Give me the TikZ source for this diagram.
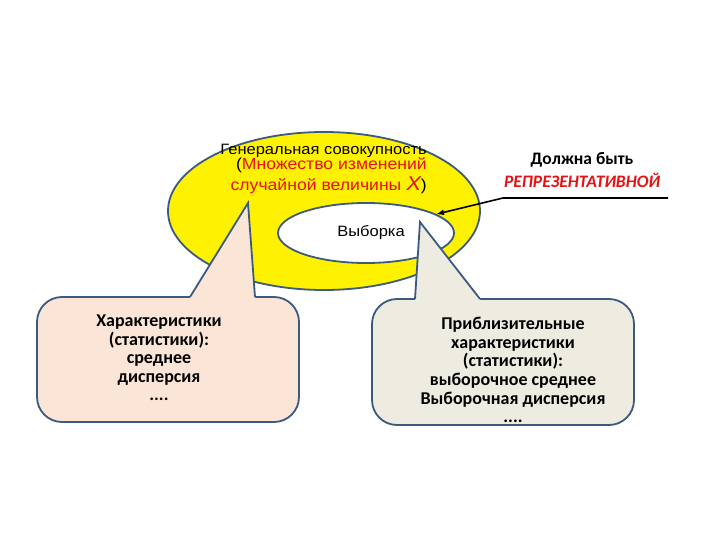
\documentclass[tikz,border=0pt]{standalone}
\usepackage{fontspec}
\setmainfont{Carlito}
\newfontfamily\arialw[FakeStretch=1.1]{Liberation Sans}
\usetikzlibrary{positioning,calc,arrows,shapes,shapes.geometric}
\definecolor{bordc}{RGB}{60,90,125}
\definecolor{redtxt}{RGB}{228,18,20}
\definecolor{peach}{RGB}{251,229,214}
\definecolor{tanbg}{RGB}{238,236,225}
\tikzset{popul/.style={ellipse, draw=bordc, line width=1.8pt, fill=yellow, inner sep=0pt}}
\tikzset{sampl/.style={ellipse, draw=bordc, line width=1.8pt, fill=white, inner sep=0pt}}
\tikzset{callbox/.style={draw=bordc, line width=1.8pt}}
\tikzset{bubble/.style={callbox, rounded corners=25pt, minimum width=262pt, minimum height=125pt, inner sep=0pt}}
\tikzset{calltxt/.style={align=center, font=\bfseries\fontsize{18}{18.6}\selectfont}}
\tikzset{ptarr/.style={draw, -latex, line width=1.6pt}}
\begin{document}
\begin{tikzpicture}[x=1pt, y=-1pt]
			\useasboundingbox (0,0) rectangle (720,540);
			% population and sample
			\node[popul, minimum width=312pt, minimum height=158pt] (pop) at (324,211) {};
			\node[sampl, minimum width=176pt, minimum height=60pt] (smp) at (366,233) {};
			\node[font=\arialw\fontsize{15}{15}\selectfont] (smplbl) at (371,233) {Выборка};
			%
			\node[anchor=base east, inner sep=0pt, font=\arialw\fontsize{15}{15}\selectfont]
				(gen1) at (427,155) {Генеральная совокупность};
			\node[anchor=base east, inner sep=0pt, font=\arialw\fontsize{16}{16}\selectfont]
				(gen2) at (427,170) {(\textcolor{redtxt}{Множество изменений}};
			\node[anchor=base east, inner sep=0pt, font=\arialw\fontsize{16}{16}\selectfont]
				(gen3) at (427,191) {\textcolor{redtxt}{случайной величины {\fontsize{20}{20}\selectfont\itshape X}})};
			%
			% left callout
			\node[bubble, fill=peach] (boxL) at (168,359.5) {};
			\coordinate (tipL) at (248,203);
			\fill[peach] (190,297) -- (tipL) -- (255,297) -- (255,299) -- (190,299) -- cycle;
			\draw[callbox] (190,297) -- (tipL) -- (255,297);
			\node[calltxt] (charL) at (159,358) {Характеристики\\(статистики):\\среднее\\дисперсия\\....};
			%
			% right callout
			\node[bubble, fill=tanbg, minimum height=126pt] (boxR) at (503,362) {};
			\coordinate (tipR) at (420,222);
			\fill[tanbg] (415,299) -- (tipR) -- (480,299) -- (480,301) -- (415,301) -- cycle;
			\draw[callbox] (415,299) -- (tipR) -- (480,299);
			\node[calltxt] (charR) at (513,370) {Приблизительные\\характеристики\\(статистики):\\выборочное среднее\\Выборочная дисперсия\\....};
			%
			% representativeness
			\node[font=\bfseries\fontsize{17.5}{17.5}\selectfont] (must) at (582,160) {Должна быть};
			\node[below=-1pt of must, font=\bfseries\itshape\fontsize{17.5}{17.5}\selectfont, text=redtxt]
				(repr) {РЕПРЕЗЕНТАТИВНОЙ};
			\coordinate (lnR) at (668,198);
			\coordinate (lnM) at (503,198);
			\draw[ptarr] (lnR) -- (lnM) -- (smp.15);
		\end{tikzpicture}
\end{document}
